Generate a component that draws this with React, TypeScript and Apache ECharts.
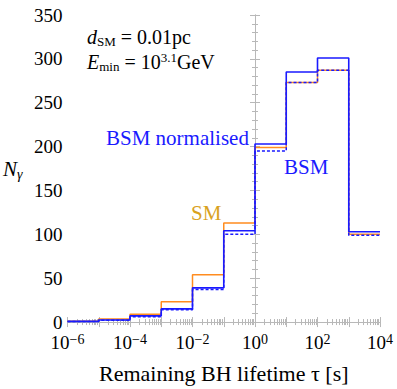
import React, { useEffect, useRef } from "react";
import * as echarts from "echarts";

// bin edges, log10(tau / s)
const tauEdgeExps = [-6, -5, -4, -3, -2, -1, 0, 1, 2, 3, 4];
// counts per decade bin
const smCounts = [1, 3.4, 9, 23, 54, 113, 199, 273, 287, 100];
const bsmCounts = [0.8, 2.3, 7, 15, 39, 104, 203, 285, 301, 103];
const bsmNormCounts = [0.6, 2.0, 6, 14, 37, 100, 195, 273, 287, 99];
// tick labels
const xLabelExps = [-6, -4, -2, 0, 2, 4];
const yLabelValues = [0, 50, 100, 150, 200, 250, 300, 350];

const FONT = "Liberation Serif";
const FRAME = "#b8b8b8";
const BLUE = "#1a1aff";
const ORANGE = "#ff8c1f";
const GOLD = "#d9a21e";

const xMajorTicks = tauEdgeExps;
const xMinorTicks: number[] = [];
for (let n = -6; n < 4; n++) for (let k = 2; k <= 9; k++) xMinorTicks.push(n + Math.log10(k));
const yMinorTicks: number[] = [];
for (let v = 10; v < 350; v += 10) if (v % 50 !== 0) yMinorTicks.push(v);

const stepData = (counts: number[]) =>
  tauEdgeExps.map((e, i) => [e, counts[Math.min(i, counts.length - 1)]]);

const fmtExp = (v: number) => {
  const s = v < 0 ? "\u2212" + -v : String(v);
  return `{b|10}{s|${s}}`;
};

export default function App() {
  const ref = useRef<HTMLDivElement>(null);
  useEffect(() => {
    if (!ref.current) return;
    const chart = echarts.init(ref.current, null, { renderer: "svg" });
    const xBase = {
      type: "value" as const,
      min: -6,
      max: 4,
      splitLine: { show: false },
    };
    const yBase = {
      type: "value" as const,
      min: -4.5,
      max: 350,
      splitLine: { show: false },
    };
    chart.setOption({
      animation: false,
      textStyle: { fontFamily: FONT },
      grid: { left: 67.5, right: 17, top: 15, bottom: 63, outerBoundsMode: "none" },
      xAxis: [
        {
          ...xBase,
          position: "bottom",
          axisLine: { show: true, lineStyle: { color: FRAME, width: 1 } },
          axisTick: { show: true, inside: true, length: 5, customValues: xMajorTicks, lineStyle: { color: FRAME } },
          axisLabel: {
            show: true,
            customValues: xLabelExps,
            formatter: fmtExp,
            margin: 6,
            fontFamily: FONT,
            rich: {
              b: { fontSize: 19, fontFamily: FONT, color: "#000", lineHeight: 20 },
              s: { fontSize: 14, fontFamily: FONT, color: "#000", lineHeight: 12, verticalAlign: "top" },
            },
          },
          name: "Remaining BH lifetime \u03c4 [s]",
          nameLocation: "middle",
          nameGap: 36,
          nameTextStyle: { fontFamily: FONT, fontSize: 22, color: "#000" },
        },
        {
          ...xBase,
          position: "bottom",
          axisLine: { show: false },
          axisTick: { show: true, inside: true, length: 3, customValues: xMinorTicks, lineStyle: { color: FRAME } },
          axisLabel: { show: false },
        },
        {
          ...xBase,
          position: "top",
          axisLine: { show: true, lineStyle: { color: FRAME, width: 1 } },
          axisTick: { show: true, inside: true, length: 5, customValues: xMajorTicks, lineStyle: { color: FRAME } },
          axisLabel: { show: false },
        },
        {
          ...xBase,
          position: "top",
          axisLine: { show: false },
          axisTick: { show: true, inside: true, length: 3, customValues: xMinorTicks, lineStyle: { color: FRAME } },
          axisLabel: { show: false },
        },
      ],
      yAxis: [
        {
          ...yBase,
          position: "left",
          axisLine: { show: true, lineStyle: { color: FRAME, width: 1 } },
          axisTick: { show: true, inside: true, length: 5, customValues: yLabelValues, lineStyle: { color: FRAME } },
          axisLabel: {
            show: true,
            customValues: yLabelValues,
            fontFamily: FONT,
            fontSize: 19,
            color: "#000",
            margin: 5,
          },
        },
        {
          ...yBase,
          position: "left",
          axisLine: { show: false },
          axisTick: { show: true, inside: true, length: 3, customValues: yMinorTicks, lineStyle: { color: FRAME } },
          axisLabel: { show: false },
        },
        {
          ...yBase,
          position: "right",
          axisLine: { show: true, lineStyle: { color: FRAME, width: 1 } },
          axisTick: { show: true, inside: true, length: 5, customValues: yLabelValues, lineStyle: { color: FRAME } },
          axisLabel: { show: false },
        },
        {
          ...yBase,
          position: "right",
          axisLine: { show: false },
          axisTick: { show: true, inside: true, length: 3, customValues: yMinorTicks, lineStyle: { color: FRAME } },
          axisLabel: { show: false },
        },
      ],
      series: [
        {
          name: "SM",
          type: "line",
          step: "end",
          data: stepData(smCounts),
          showSymbol: false,
          symbol: "none",
          lineStyle: { color: ORANGE, width: 1.5 },
        },
        {
          name: "BSM",
          type: "line",
          step: "end",
          data: stepData(bsmCounts),
          showSymbol: false,
          symbol: "none",
          lineStyle: { color: BLUE, width: 1.6 },
        },
        {
          name: "BSM normalised",
          type: "line",
          step: "end",
          data: stepData(bsmNormCounts),
          showSymbol: false,
          symbol: "none",
          lineStyle: { color: BLUE, width: 1.5, type: [3, 2] },
        },
      ],
      graphic: [
        {
          type: "text",
          left: 3,
          top: 158,
          style: {
            text: "{i|N}{sub|\u03b3}",
            fontFamily: FONT,
            rich: {
              i: { fontFamily: FONT, fontSize: 21, fontStyle: "italic", color: "#000", lineHeight: 26 },
              sub: { fontFamily: FONT, fontSize: 14, fontStyle: "italic", color: "#000", lineHeight: 14, verticalAlign: "bottom" },
            },
          },
        },
        {
          type: "text",
          left: 87,
          top: 27,
          style: {
            text: "{i|d}{sub|SM}{r| = 0.01pc}",
            fontFamily: FONT,
            rich: {
              i: { fontFamily: FONT, fontSize: 20, fontStyle: "italic", color: "#000", lineHeight: 22 },
              sub: { fontFamily: FONT, fontSize: 13, color: "#000", lineHeight: 12, verticalAlign: "bottom" },
              r: { fontFamily: FONT, fontSize: 20, color: "#000", lineHeight: 22 },
            },
          },
        },
        {
          type: "text",
          left: 87,
          top: 51,
          style: {
            text: "{i|E}{sub|min}{r| = 10}{sup|3.1}{r|GeV}",
            fontFamily: FONT,
            rich: {
              i: { fontFamily: FONT, fontSize: 20, fontStyle: "italic", color: "#000", lineHeight: 22 },
              sub: { fontFamily: FONT, fontSize: 13, color: "#000", lineHeight: 12, verticalAlign: "bottom" },
              sup: { fontFamily: FONT, fontSize: 13, color: "#000", lineHeight: 12, verticalAlign: "top" },
              r: { fontFamily: FONT, fontSize: 20, color: "#000", lineHeight: 22 },
            },
          },
        },
        {
          type: "text",
          left: 106,
          top: 127,
          style: { text: "BSM normalised", fontFamily: FONT, fontSize: 21, fill: BLUE },
        },
        {
          type: "text",
          left: 284,
          top: 156,
          style: { text: "BSM", fontFamily: FONT, fontSize: 21, fill: BLUE },
        },
        {
          type: "text",
          left: 191,
          top: 202,
          style: { text: "SM", fontFamily: FONT, fontSize: 21, fill: GOLD },
        },
      ],
    });
    return () => chart.dispose();
  }, []);
  return (
    <div
      ref={ref}
      style={{ position: "fixed", left: 0, top: 0, width: 397, height: 389, background: "#fff" }}
    />
  );
}
